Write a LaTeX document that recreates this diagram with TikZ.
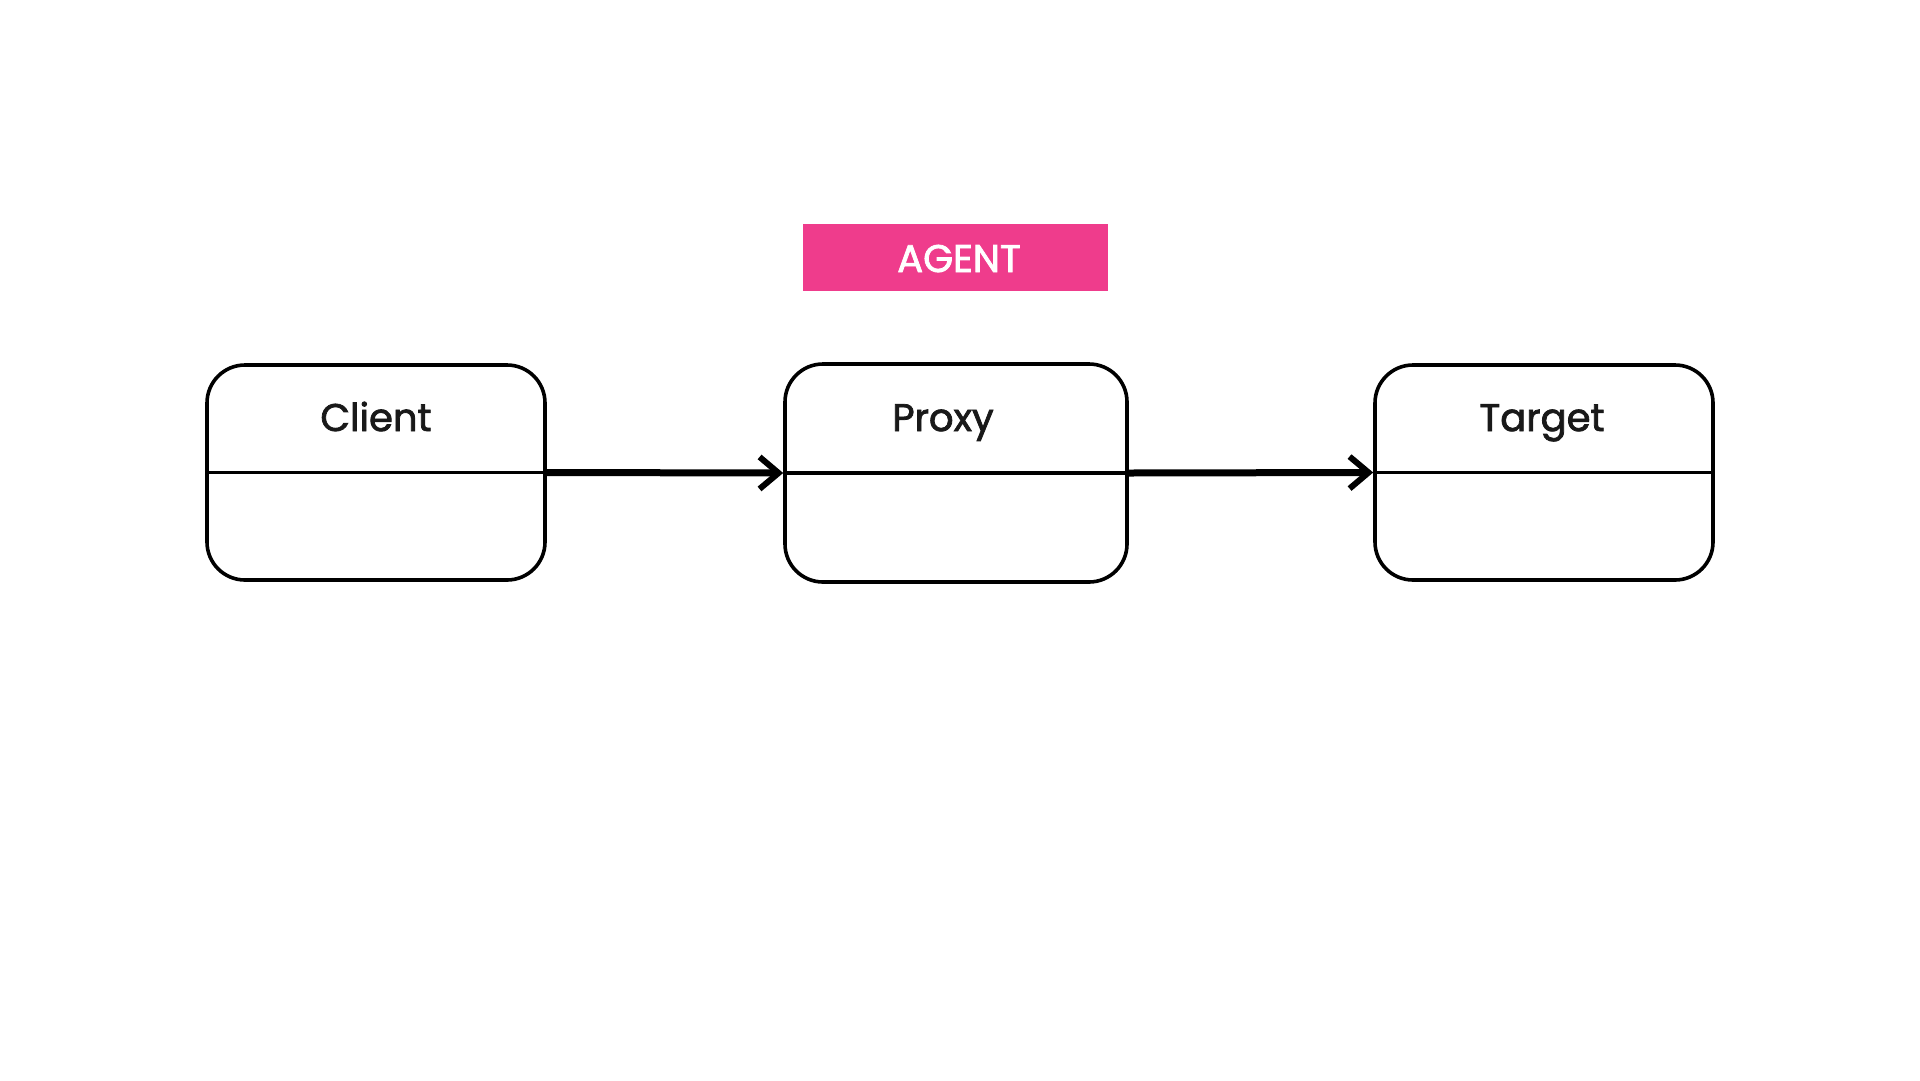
\documentclass[tikz,border=0pt]{standalone}
\usepackage{fontspec}
\setmainfont{Poppins}
\newfontfamily\poppinsmed{Poppins}[UprightFeatures={FakeBold=2}]
\usetikzlibrary{arrows.meta}
\definecolor{agentpink}{HTML}{EF3C8C}
\begin{document}
\begin{tikzpicture}[x=1pt,y=-1pt,
  box/.style={draw=black, line width=3.6pt, rounded corners=38pt, minimum width=338pt, minimum height=215pt, inner sep=0pt, fill=white},
  lbl/.style={font=\poppinsmed\fontsize{38.5}{45}\selectfont, text=black!90, anchor=base},
  conn/.style={line width=7pt, -{Straight Barb[length=19pt,width=32pt,line width=6pt]}},
  div/.style={line width=3.2pt}]
\useasboundingbox (0,0) rectangle (1920,1080);
\fill[white] (0,0) rectangle (1920,1080);
\node[fill=agentpink, minimum width=305pt, minimum height=67pt, inner sep=0pt] (agent) at (955.5,257.5) {};
\node[font=\poppinsmed\fontsize{38.5}{45}\selectfont, text=white, anchor=base] (agentt) at (959,272) {AGENT};
\node[box] (c) at (376,472.5) {};
\node[box, minimum width=342pt, minimum height=218pt] (p) at (956,473) {};
\node[box] (t) at (1544,472.5) {};
\draw[div] (c.west) -- (c.east);
\draw[div] (p.west) -- (p.east);
\draw[div] (t.west) -- (t.east);
\node[lbl] (cl) at (376,431) {Client};
\node[lbl] (pl) at (943,431) {Proxy};
\node[lbl] (tl) at (1542,431) {Target};
\draw[conn] (c.east) -- (p.west);
\draw[conn] (p.east) -- (t.west);
\end{tikzpicture}
\end{document}
